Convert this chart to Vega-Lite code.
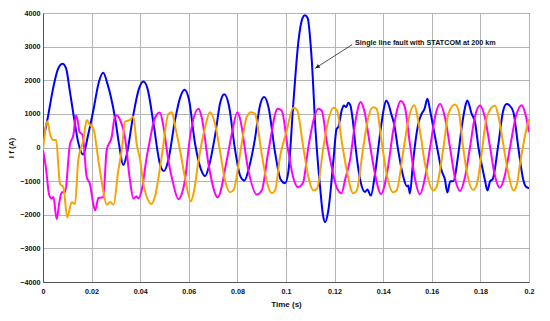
{
"$schema": "https://vega.github.io/schema/vega-lite/v6.json",
"width": 486, "height": 269,
"autosize": {"type": "none"},
"padding": {"left": 43, "top": 13, "right": 21, "bottom": 39},
"background": "white",
"config": {
  "view": {"stroke": "#666", "strokeWidth": 1},
  "axis": {"labelFont": "Liberation Sans", "labelFontWeight": "bold", "labelFontSize": 7.2, "labelColor": "#111", "labelOverlap": false,
    "titleFont": "Liberation Sans", "titleFontWeight": "bold", "titleFontSize": 8, "titleColor": "#111",
    "gridColor": "#b4b4b4", "gridWidth": 1, "gridOpacity": 1, "domainColor": "#555", "ticks": false}
},
"datasets": {
  "wave": [
{"s":"a","t":0,"v":200},{"s":"a","t":0.002,"v":900},{"s":"a","t":0.004,"v":1700},{"s":"a","t":0.006,"v":2300},{"s":"a","t":0.008,"v":2490},{"s":"a","t":0.0095,"v":2350},{"s":"a","t":0.011,"v":1700},{"s":"a","t":0.0125,"v":1000},{"s":"a","t":0.0145,"v":150},{"s":"a","t":0.0165,"v":-210},{"s":"a","t":0.0185,"v":350},{"s":"a","t":0.0207,"v":1100},{"s":"a","t":0.023,"v":1950},{"s":"a","t":0.0248,"v":2220},{"s":"a","t":0.0265,"v":1900},{"s":"a","t":0.0296,"v":900},{"s":"a","t":0.0315,"v":0},{"s":"a","t":0.033,"v":-520},{"s":"a","t":0.0345,"v":-200},{"s":"a","t":0.037,"v":900},{"s":"a","t":0.0395,"v":1750},{"s":"a","t":0.0413,"v":1960},{"s":"a","t":0.043,"v":1750},{"s":"a","t":0.0455,"v":700},{"s":"a","t":0.048,"v":-450},{"s":"a","t":0.0498,"v":-700},{"s":"a","t":0.0515,"v":-400},{"s":"a","t":0.0543,"v":800},{"s":"a","t":0.0565,"v":1500},{"s":"a","t":0.0582,"v":1720},{"s":"a","t":0.06,"v":1450},{"s":"a","t":0.0625,"v":150},{"s":"a","t":0.065,"v":-650},{"s":"a","t":0.0667,"v":-850},{"s":"a","t":0.0685,"v":-500},{"s":"a","t":0.0708,"v":350},{"s":"a","t":0.073,"v":1350},{"s":"a","t":0.0746,"v":1580},{"s":"a","t":0.0765,"v":1250},{"s":"a","t":0.079,"v":-50},{"s":"a","t":0.0812,"v":-850},{"s":"a","t":0.0829,"v":-980},{"s":"a","t":0.0848,"v":-600},{"s":"a","t":0.0872,"v":250},{"s":"a","t":0.0893,"v":1250},{"s":"a","t":0.091,"v":1500},{"s":"a","t":0.0928,"v":1200},{"s":"a","t":0.0955,"v":-150},{"s":"a","t":0.0978,"v":-950},{"s":"a","t":0.0996,"v":-1060},{"s":"a","t":0.101,"v":-700},{"s":"a","t":0.103,"v":1300},{"s":"a","t":0.1051,"v":3150},{"s":"a","t":0.1068,"v":3850},{"s":"a","t":0.1078,"v":3930},{"s":"a","t":0.1089,"v":3850},{"s":"a","t":0.1106,"v":2600},{"s":"a","t":0.1122,"v":450},{"s":"a","t":0.114,"v":-1150},{"s":"a","t":0.1152,"v":-2000},{"s":"a","t":0.1161,"v":-2220},{"s":"a","t":0.1174,"v":-1880},{"s":"a","t":0.1195,"v":-400},{"s":"a","t":0.1208,"v":550},{"s":"a","t":0.1216,"v":620},{"s":"a","t":0.1229,"v":1100},{"s":"a","t":0.1238,"v":1250},{"s":"a","t":0.1248,"v":1200},{"s":"a","t":0.1256,"v":1330},{"s":"a","t":0.1265,"v":1250},{"s":"a","t":0.1275,"v":800},{"s":"a","t":0.1288,"v":-100},{"s":"a","t":0.1305,"v":-950},{"s":"a","t":0.1325,"v":-1320},{"s":"a","t":0.1335,"v":-1250},{"s":"a","t":0.1349,"v":-1430},{"s":"a","t":0.1366,"v":-800},{"s":"a","t":0.1387,"v":400},{"s":"a","t":0.14,"v":1050},{"s":"a","t":0.1412,"v":1400},{"s":"a","t":0.142,"v":1320},{"s":"a","t":0.1435,"v":950},{"s":"a","t":0.1445,"v":700},{"s":"a","t":0.1462,"v":-100},{"s":"a","t":0.1483,"v":-880},{"s":"a","t":0.1497,"v":-1150},{"s":"a","t":0.1503,"v":-1130},{"s":"a","t":0.151,"v":-1370},{"s":"a","t":0.1522,"v":-500},{"s":"a","t":0.1535,"v":300},{"s":"a","t":0.1548,"v":800},{"s":"a","t":0.1558,"v":1000},{"s":"a","t":0.157,"v":1150},{"s":"a","t":0.1582,"v":1450},{"s":"a","t":0.1593,"v":1100},{"s":"a","t":0.1606,"v":600},{"s":"a","t":0.1627,"v":-200},{"s":"a","t":0.164,"v":-680},{"s":"a","t":0.1654,"v":-950},{"s":"a","t":0.1664,"v":-1340},{"s":"a","t":0.1676,"v":-1000},{"s":"a","t":0.1688,"v":-1000},{"s":"a","t":0.1709,"v":-200},{"s":"a","t":0.1723,"v":600},{"s":"a","t":0.1737,"v":1200},{"s":"a","t":0.1746,"v":1400},{"s":"a","t":0.1764,"v":1000},{"s":"a","t":0.1778,"v":750},{"s":"a","t":0.1792,"v":0},{"s":"a","t":0.1805,"v":-500},{"s":"a","t":0.1819,"v":-980},{"s":"a","t":0.1829,"v":-1280},{"s":"a","t":0.184,"v":-1000},{"s":"a","t":0.185,"v":-950},{"s":"a","t":0.1874,"v":100},{"s":"a","t":0.1894,"v":1100},{"s":"a","t":0.1908,"v":1290},{"s":"a","t":0.192,"v":1250},{"s":"a","t":0.1936,"v":1050},{"s":"a","t":0.1956,"v":0},{"s":"a","t":0.1977,"v":-980},{"s":"a","t":0.1988,"v":-1170},{"s":"a","t":0.2,"v":-1210},
{"s":"b","t":0,"v":-80},{"s":"b","t":0.0012,"v":-600},{"s":"b","t":0.0025,"v":-1400},{"s":"b","t":0.0035,"v":-1520},{"s":"b","t":0.0043,"v":-1470},{"s":"b","t":0.0056,"v":-2130},{"s":"b","t":0.0068,"v":-1600},{"s":"b","t":0.0077,"v":-1330},{"s":"b","t":0.009,"v":-1330},{"s":"b","t":0.0111,"v":100},{"s":"b","t":0.0125,"v":370},{"s":"b","t":0.0136,"v":960},{"s":"b","t":0.0145,"v":700},{"s":"b","t":0.015,"v":470},{"s":"b","t":0.0163,"v":370},{"s":"b","t":0.018,"v":-880},{"s":"b","t":0.0193,"v":-1080},{"s":"b","t":0.0207,"v":-1680},{"s":"b","t":0.0215,"v":-1870},{"s":"b","t":0.0228,"v":-1500},{"s":"b","t":0.0248,"v":-1480},{"s":"b","t":0.0262,"v":-80},{"s":"b","t":0.0283,"v":320},{"s":"b","t":0.0296,"v":920},{"s":"b","t":0.0305,"v":950},{"s":"b","t":0.0317,"v":820},{"s":"b","t":0.0338,"v":270},{"s":"b","t":0.0358,"v":-980},{"s":"b","t":0.0372,"v":-1520},{"s":"b","t":0.0385,"v":-1450},{"s":"b","t":0.0392,"v":-1520},{"s":"b","t":0.0406,"v":-1280},{"s":"b","t":0.0427,"v":-280},{"s":"b","t":0.044,"v":220},{"s":"b","t":0.046,"v":870},{"s":"b","t":0.0481,"v":1040},{"s":"b","t":0.0495,"v":650},{"s":"b","t":0.0516,"v":-390},{"s":"b","t":0.0536,"v":-1080},{"s":"b","t":0.0557,"v":-1540},{"s":"b","t":0.0565,"v":-1480},{"s":"b","t":0.0584,"v":-980},{"s":"b","t":0.0605,"v":310},{"s":"b","t":0.064,"v":1150},{"s":"b","t":0.0653,"v":900},{"s":"b","t":0.0681,"v":-490},{"s":"b","t":0.0719,"v":-1480},{"s":"b","t":0.0756,"v":-390},{"s":"b","t":0.0777,"v":410},{"s":"b","t":0.08,"v":1050},{"s":"b","t":0.0811,"v":850},{"s":"b","t":0.0845,"v":-680},{"s":"b","t":0.088,"v":-1400},{"s":"b","t":0.09,"v":-1280},{"s":"b","t":0.0928,"v":-90},{"s":"b","t":0.0966,"v":1150},{"s":"b","t":0.0982,"v":1100},{"s":"b","t":0.1009,"v":-90},{"s":"b","t":0.103,"v":-900},{"s":"b","t":0.105,"v":-1180},{"s":"b","t":0.107,"v":-1050},{"s":"b","t":0.1092,"v":10},{"s":"b","t":0.1113,"v":800},{"s":"b","t":0.1133,"v":1150},{"s":"b","t":0.1147,"v":1100},{"s":"b","t":0.1167,"v":200},{"s":"b","t":0.1188,"v":-580},{"s":"b","t":0.1208,"v":-1180},{"s":"b","t":0.1228,"v":-1360},{"s":"b","t":0.1245,"v":-900},{"s":"b","t":0.1263,"v":-390},{"s":"b","t":0.1284,"v":700},{"s":"b","t":0.1307,"v":1350},{"s":"b","t":0.1322,"v":1100},{"s":"b","t":0.1345,"v":100},{"s":"b","t":0.1366,"v":-780},{"s":"b","t":0.1391,"v":-1380},{"s":"b","t":0.142,"v":-580},{"s":"b","t":0.1441,"v":500},{"s":"b","t":0.1473,"v":1380},{"s":"b","t":0.1489,"v":1200},{"s":"b","t":0.151,"v":100},{"s":"b","t":0.153,"v":-900},{"s":"b","t":0.1551,"v":-1390},{"s":"b","t":0.1572,"v":-900},{"s":"b","t":0.1593,"v":0},{"s":"b","t":0.1613,"v":900},{"s":"b","t":0.1634,"v":1300},{"s":"b","t":0.1654,"v":900},{"s":"b","t":0.1675,"v":0},{"s":"b","t":0.1695,"v":-900},{"s":"b","t":0.1716,"v":-1290},{"s":"b","t":0.1736,"v":-900},{"s":"b","t":0.1757,"v":0},{"s":"b","t":0.1777,"v":900},{"s":"b","t":0.1798,"v":1250},{"s":"b","t":0.1819,"v":880},{"s":"b","t":0.184,"v":0},{"s":"b","t":0.186,"v":-850},{"s":"b","t":0.188,"v":-1200},{"s":"b","t":0.19,"v":-850},{"s":"b","t":0.1922,"v":0},{"s":"b","t":0.1945,"v":900},{"s":"b","t":0.197,"v":1260},{"s":"b","t":0.1985,"v":1000},{"s":"b","t":0.2,"v":450},
{"s":"c","t":0,"v":-80},{"s":"c","t":0.0018,"v":780},{"s":"c","t":0.003,"v":370},{"s":"c","t":0.0043,"v":220},{"s":"c","t":0.0054,"v":220},{"s":"c","t":0.007,"v":-1080},{"s":"c","t":0.0084,"v":-1180},{"s":"c","t":0.01,"v":-2080},{"s":"c","t":0.0118,"v":-1630},{"s":"c","t":0.0132,"v":-1680},{"s":"c","t":0.0145,"v":-380},{"s":"c","t":0.0166,"v":220},{"s":"c","t":0.018,"v":820},{"s":"c","t":0.0193,"v":670},{"s":"c","t":0.0207,"v":570},{"s":"c","t":0.0228,"v":-380},{"s":"c","t":0.0248,"v":-1280},{"s":"c","t":0.0262,"v":-1700},{"s":"c","t":0.0276,"v":-1620},{"s":"c","t":0.029,"v":-1700},{"s":"c","t":0.031,"v":-680},{"s":"c","t":0.0324,"v":-80},{"s":"c","t":0.0338,"v":770},{"s":"c","t":0.0358,"v":820},{"s":"c","t":0.0372,"v":920},{"s":"c","t":0.0385,"v":120},{"s":"c","t":0.04,"v":-380},{"s":"c","t":0.0413,"v":-1080},{"s":"c","t":0.0447,"v":-1680},{"s":"c","t":0.046,"v":-1480},{"s":"c","t":0.049,"v":-200},{"s":"c","t":0.0516,"v":1000},{"s":"c","t":0.053,"v":1050},{"s":"c","t":0.0543,"v":650},{"s":"c","t":0.0564,"v":-90},{"s":"c","t":0.0584,"v":-880},{"s":"c","t":0.0609,"v":-1600},{"s":"c","t":0.0619,"v":-1380},{"s":"c","t":0.064,"v":-390},{"s":"c","t":0.0667,"v":600},{"s":"c","t":0.0687,"v":1050},{"s":"c","t":0.0708,"v":700},{"s":"c","t":0.0728,"v":-90},{"s":"c","t":0.0749,"v":-980},{"s":"c","t":0.077,"v":-1330},{"s":"c","t":0.0785,"v":-1250},{"s":"c","t":0.0811,"v":-190},{"s":"c","t":0.0838,"v":900},{"s":"c","t":0.0856,"v":1050},{"s":"c","t":0.0872,"v":1000},{"s":"c","t":0.09,"v":-190},{"s":"c","t":0.092,"v":-980},{"s":"c","t":0.0941,"v":-1360},{"s":"c","t":0.0955,"v":-1280},{"s":"c","t":0.0975,"v":-290},{"s":"c","t":0.1003,"v":500},{"s":"c","t":0.103,"v":1180},{"s":"c","t":0.1045,"v":1120},{"s":"c","t":0.1071,"v":10},{"s":"c","t":0.1092,"v":-880},{"s":"c","t":0.1113,"v":-1280},{"s":"c","t":0.1128,"v":-1220},{"s":"c","t":0.1154,"v":10},{"s":"c","t":0.1174,"v":800},{"s":"c","t":0.1195,"v":1180},{"s":"c","t":0.121,"v":1100},{"s":"c","t":0.1229,"v":200},{"s":"c","t":0.125,"v":-680},{"s":"c","t":0.1277,"v":-1360},{"s":"c","t":0.129,"v":-1300},{"s":"c","t":0.1318,"v":10},{"s":"c","t":0.1339,"v":900},{"s":"c","t":0.1359,"v":1200},{"s":"c","t":0.1373,"v":1150},{"s":"c","t":0.1393,"v":200},{"s":"c","t":0.1414,"v":-780},{"s":"c","t":0.1441,"v":-1330},{"s":"c","t":0.1455,"v":-1280},{"s":"c","t":0.1483,"v":-90},{"s":"c","t":0.1503,"v":800},{"s":"c","t":0.1527,"v":1260},{"s":"c","t":0.1551,"v":500},{"s":"c","t":0.1572,"v":-490},{"s":"c","t":0.1606,"v":-1280},{"s":"c","t":0.1618,"v":-1200},{"s":"c","t":0.1648,"v":0},{"s":"c","t":0.1668,"v":1000},{"s":"c","t":0.1695,"v":1280},{"s":"c","t":0.171,"v":1100},{"s":"c","t":0.1729,"v":0},{"s":"c","t":0.1743,"v":-680},{"s":"c","t":0.177,"v":-1260},{"s":"c","t":0.1785,"v":-1100},{"s":"c","t":0.1805,"v":-190},{"s":"c","t":0.1826,"v":900},{"s":"c","t":0.186,"v":1250},{"s":"c","t":0.1875,"v":900},{"s":"c","t":0.1894,"v":100},{"s":"c","t":0.1915,"v":-780},{"s":"c","t":0.1936,"v":-1280},{"s":"c","t":0.195,"v":-1100},{"s":"c","t":0.1963,"v":-490},{"s":"c","t":0.1991,"v":600},{"s":"c","t":0.2,"v":850}
  ],
  "arrow": [{"t": 0.1272, "v": 3060, "te": 0.1119, "ve": 2350}],
  "head": [{"t": 0.1129, "v": 2395}],
  "note": [{"t": 0.1284, "v": 3120, "label": "Single line fault with STATCOM at 200 km"}]
},
"encoding": {
  "x": {"field": "t", "type": "quantitative", "scale": {"domain": [0, 0.2], "nice": false},
    "axis": {"values": [0,0.02,0.04,0.06,0.08,0.1,0.12,0.14,0.16,0.18,0.2], "format": ".2~f", "title": "Time (s)", "grid": true, "labelPadding": 5, "titlePadding": 6, "labelFlush": false}},
  "y": {"field": "v", "type": "quantitative", "scale": {"domain": [-4000, 4000], "nice": false},
    "axis": {"values": [-4000,-3000,-2000,-1000,0,1000,2000,3000,4000], "tickCount": 9, "format": "d", "title": "I f (A)", "grid": true, "labelPadding": 3, "titlePadding": 4, "labelOverlap": false}}
},
"layer": [
  {
    "data": {"name": "wave"},
    "mark": {"type": "line", "interpolate": "monotone", "strokeWidth": 2, "clip": true},
    "encoding": {
      "color": {"field": "s", "type": "nominal", "scale": {"domain": ["a","b","c"], "range": ["#0000ff", "#ff00ff", "#f7a400"]}, "legend": null},
      "order": {"field": "t", "type": "quantitative"}
    }
  },
  {
    "data": {"name": "arrow"},
    "mark": {"type": "rule", "color": "#222", "strokeWidth": 0.8},
    "encoding": {"x2": {"field": "te"}, "y2": {"field": "ve"}}
  },
  {
    "data": {"name": "head"},
    "mark": {"type": "point", "shape": "triangle-up", "filled": true, "color": "#222", "size": 22, "angle": 237, "opacity": 1},
    "encoding": {}
  },
  {
    "data": {"name": "note"},
    "mark": {"type": "text", "align": "left", "baseline": "middle", "font": "Liberation Sans", "fontWeight": "bold", "fontSize": 7.2, "color": "#111"},
    "encoding": {"text": {"field": "label"}}
  }
]
}
